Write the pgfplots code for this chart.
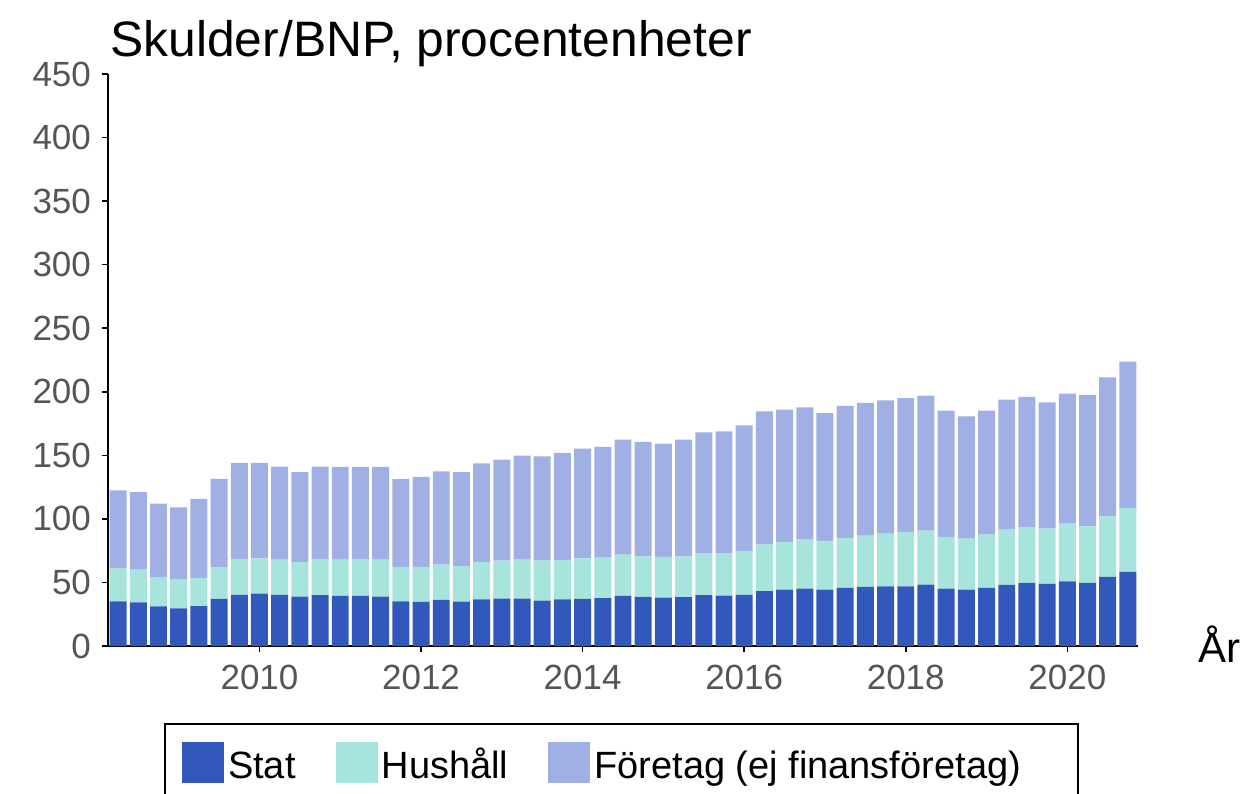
\documentclass[border=0pt]{standalone}
\usepackage{pgfplots}
\usepackage{pgfplotstable}
\pgfplotsset{compat=1.18}
\usepackage{fontspec}
\setmainfont{Liberation Sans}
\definecolor{cstat}{HTML}{3258BB}
\definecolor{chush}{HTML}{A6E4DC}
\definecolor{cftg}{HTML}{A0B0E4}
\definecolor{ticktext}{HTML}{555555}
\pgfplotstableread{
x s h f
0 35.2 25.7 61.6
1 34.4 25.7 60.9
2 31.1 23.0 57.9
3 29.7 22.6 56.7
4 31.3 22.3 62.1
5 37.1 24.9 69.4
6 40.2 28.3 75.5
7 41.3 27.7 75.0
8 40.2 27.8 73.1
9 38.9 27.0 70.8
10 40.0 28.5 72.6
11 39.5 28.5 73.0
12 39.5 29.0 72.5
13 38.9 29.1 73.0
14 35.2 27.0 69.2
15 34.7 27.5 70.8
16 36.3 27.7 73.4
17 35.0 27.8 73.9
18 36.6 29.6 77.5
19 37.3 29.9 79.4
20 37.3 30.7 81.8
21 35.8 31.4 82.0
22 36.6 31.2 84.1
23 37.0 32.0 86.3
24 37.6 32.0 87.0
25 39.5 32.4 90.4
26 38.7 31.9 89.9
27 38.1 32.0 89.1
28 38.4 32.2 91.7
29 40.0 33.0 95.1
30 39.7 33.3 95.9
31 40.2 34.6 98.8
32 43.1 36.7 104.8
33 44.4 37.5 104.1
34 45.2 38.5 104.0
35 44.4 38.0 100.9
36 45.8 39.2 104.0
37 46.5 40.4 104.3
38 47.0 41.4 104.9
39 47.0 42.8 105.3
40 48.3 42.5 106.1
41 45.2 40.6 99.3
42 44.4 40.1 96.2
43 45.8 41.9 97.4
44 48.0 43.6 102.2
45 49.7 44.0 102.2
46 48.9 43.5 99.3
47 50.9 45.4 102.2
48 49.7 44.5 103.3
49 54.4 47.6 109.3
50 58.3 50.3 115.1
}\datatable
\begin{document}
\begin{tikzpicture}
\useasboundingbox (-54pt,-73.5pt) rectangle (571.5pt,323pt);
\begin{axis}[
  at={(0,0)}, anchor=south west,
  scale only axis, width=515pt, height=286pt,
  ybar stacked, bar width=0.84,
  xmin=-0.5, xmax=50.5, ymin=0, ymax=450,
  enlargelimits=false,
  axis x line=bottom, axis y line=left,
  axis line style={-, black, line width=1.1pt},
  xtick={7,15,23,31,39,47},
  xticklabels={2010,2012,2014,2016,2018,2020},
  ytick={0,50,...,450},
  tick align=outside,
  major tick length=3pt,
  tick style={black, line width=0.8pt},
  /pgf/number format/assume math mode=true,
  /pgf/number format/1000 sep={},
  ticklabel style={font=\fontsize{17.5pt}{20pt}\selectfont, text=ticktext},
  xticklabel style={yshift=-3pt},
  yticklabel style={xshift=-2pt},
  legend columns=3,
  legend style={at={(0.0544,-0.1346)}, anchor=north west,
    draw=black, line width=1pt,
    font=\fontsize{19pt}{22pt}\selectfont,
    inner xsep=8.5pt, inner ysep=9pt,
    /tikz/every even column/.append style={column sep=18pt}},
  legend image code/.code={\fill[#1] (0pt,-9pt) rectangle (21pt,11.5pt);},
]
\addplot[fill=cstat, draw=none] table[x=x, y=s] {\datatable};
\addplot[fill=chush, draw=none] table[x=x, y=h] {\datatable};
\addplot[fill=cftg, draw=none] table[x=x, y=f] {\datatable};
\legend{\strut Stat, \strut Hushåll, \strut Företag (ej finansföretag)\hspace*{18pt}}
\end{axis}
\node[anchor=base west, inner sep=0pt, font=\fontsize{24.9pt}{28pt}\selectfont] at (1pt,294.5pt) {Skulder/BNP, procentenheter};
\node[anchor=base west, inner sep=0pt, font=\fontsize{21pt}{24pt}\selectfont] at (545pt,-8.35pt) {År};
\end{tikzpicture}
\end{document}
